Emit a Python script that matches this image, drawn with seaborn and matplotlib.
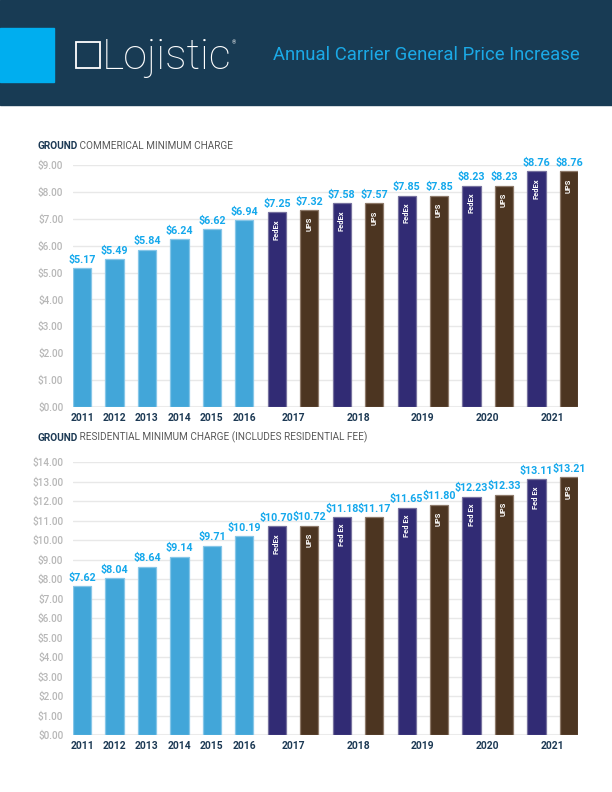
#!/usr/bin/env python3
"""
Lojistic one-pager: annual carrier general price increase, ground minimums.
"""

import matplotlib.pyplot as plt
import numpy as np
import pandas as pd
import seaborn as sns
from matplotlib.patches import Rectangle

# ---- data -----------------------------------------------------------------
hist_years = ["2011", "2012", "2013", "2014", "2015", "2016"]
carrier_years = ["2017", "2018", "2019", "2020", "2021"]

commercial_hist = [5.17, 5.49, 5.84, 6.24, 6.62, 6.94]
commercial_fedex = [7.25, 7.58, 7.85, 8.23, 8.76]
commercial_ups = [7.32, 7.57, 7.85, 8.23, 8.76]
commercial_fedex_tags = ["FedEx", "FedEx", "FedEx", "FedEx", "FedEx"]
commercial_ups_tags = ["UPS", "UPS", "UPS", "UPS", "UPS"]

residential_hist = [7.62, 8.04, 8.64, 9.14, 9.71, 10.19]
residential_fedex = [10.70, 11.18, 11.65, 12.23, 13.11]
residential_ups = [10.72, 11.17, 11.80, 12.33, 13.21]
residential_fedex_tags = ["FedEx", "Fed Ex", "Fed Ex", "Fed Ex", "Fed Ex"]
residential_ups_tags = ["UPS", "", "UPS", "UPS", "UPS"]

# ---- style ----------------------------------------------------------------
NAVY_BG = "#183b54"
CYAN = "#00aeef"
TITLE_BLUE = "#1ba9e6"
VALUE_BLUE = "#14a8ec"
YEAR_NAVY = "#1c3954"
TICK_GREY = "#b7b7b7"
GRID = "#e8e8e8"
palette = {"Ground": "#42a6d9", "FedEx": "#312b74", "UPS": "#4c3521"}
edges = {"Ground": "#86c6e8", "FedEx": "#77729f", "UPS": "#8e7a6a"}
BAR_W = 0.56
FONT = "Roboto"

W, H = 612, 792


def build_frame(hist, fedex, ups, fedex_tags, ups_tags):
    rows = []
    for i, v in enumerate(hist):
        rows.append({"slot": i, "value": v, "carrier": "Ground", "tag": ""})
    for j in range(len(carrier_years)):
        rows.append({"slot": 6 + 2 * j, "value": fedex[j], "carrier": "FedEx",
                     "tag": fedex_tags[j]})
        rows.append({"slot": 7 + 2 * j, "value": ups[j], "carrier": "UPS",
                     "tag": ups_tags[j]})
    return pd.DataFrame(rows).sort_values("slot").reset_index(drop=True)


def draw_panel(ax, df, ymax):
    sns.barplot(
        ax=ax, data=df, x="slot", y="value", hue="carrier",
        hue_order=["Ground", "FedEx", "UPS"], palette=palette,
        dodge=False, width=BAR_W, saturation=1, legend=False,
        order=list(range(16)), linewidth=0.9,
    )
    for container, name in zip(ax.containers, ["Ground", "FedEx", "UPS"]):
        for bar in container:
            bar.set_edgecolor(edges[name])

    ax.set_xlim(-BAR_W / 2, 15 + BAR_W / 2)
    ax.set_ylim(0, ymax)
    ax.set_yticks(np.arange(0, ymax + 0.5, 1))
    ax.set_yticklabels([f"${t:.2f}" for t in np.arange(0, ymax + 0.5, 1)])
    ax.yaxis.grid(True, color=GRID, linewidth=1.0)
    ax.xaxis.grid(False)
    ax.set_axisbelow(True)
    ax.axhline(0, color="#ececec", linewidth=2.2, zorder=0.5)
    for s in ax.spines.values():
        s.set_visible(False)

    ax.tick_params(axis="y", length=0, pad=7, labelcolor=TICK_GREY,
                   labelsize=7.2)
    for lab in ax.get_yticklabels():
        lab.set_fontfamily(FONT)
        lab.set_fontweight("medium")

    xticks = list(range(6)) + [6.5 + 2 * j for j in range(5)]
    ax.set_xticks(xticks)
    ax.set_xticklabels(hist_years + carrier_years)
    ax.tick_params(axis="x", length=0, pad=4, labelcolor=YEAR_NAVY,
                   labelsize=7.4)
    for lab in ax.get_xticklabels():
        lab.set_fontfamily(FONT)
        lab.set_fontweight("bold")
    ax.set_xlabel("")
    ax.set_ylabel("")

    for _, row in df.iterrows():
        ax.annotate(
            f"${row['value']:.2f}", (row["slot"], row["value"]),
            xytext=(0, 2.5), textcoords="offset points", ha="center",
            va="bottom", color=VALUE_BLUE, fontsize=7.7, fontweight="bold",
            family=FONT, annotation_clip=False,
        )
        if row["tag"]:
            ax.annotate(
                row["tag"], (row["slot"], row["value"]),
                xytext=(0, -5), textcoords="offset points", ha="center",
                va="top", rotation=90, color="white", fontsize=5.4,
                fontweight="bold", family=FONT,
            )


def section_title(fig, y_px, strong, rest):
    t = fig.text(37 / W, 1 - y_px / H, strong, ha="left", va="center",
                 fontsize=7.2, fontweight="bold", color=YEAR_NAVY, family=FONT)
    return fig.add_artist(plt.Annotation(
        " " + rest, xy=(1, 0), xycoords=t, va="bottom", ha="left",
        fontsize=7.2, color="#5a5a5a", family=FONT))


def main() -> None:
    sns.set_theme(style="white")
    plt.rcParams["font.family"] = [FONT, "DejaVu Sans"]

    fig = plt.figure(figsize=(W / 100, H / 100), dpi=100)
    fig.patch.set_facecolor("white")

    # header band
    fig.patches.append(Rectangle((0, 1 - 105 / H), 1, 105 / H,
                                 transform=fig.transFigure, color=NAVY_BG,
                                 zorder=0))
    fig.patches.append(Rectangle((0, 1 - 82 / H), 54 / W, 54 / H,
                                 transform=fig.transFigure, color=CYAN,
                                 zorder=1))
    fig.patches.append(Rectangle((76 / W, 1 - 68 / H), 24 / W, 26 / H,
                                 transform=fig.transFigure, fill=False,
                                 edgecolor="white", linewidth=1.3, zorder=2))
    fig.text(102 / W, 1 - 57 / H, "Lojistic", ha="left", va="center",
             fontsize=31, color="white", family="Roboto", fontweight="light")
    fig.text(232 / W, 1 - 43 / H, "®", ha="left", va="center", fontsize=4,
             color="white")
    fig.text(273 / W, 1 - 55 / H, "Annual Carrier General Price Increase",
             ha="left", va="center", fontsize=13.3, color=TITLE_BLUE,
             family=FONT)

    left = 73 / W
    width = (578 - 73) / W
    ax1 = fig.add_axes([left, 1 - 407 / H, width, (407 - 165) / H])
    ax2 = fig.add_axes([left, 1 - 735 / H, width, (735 - 462) / H])

    commercial = build_frame(commercial_hist, commercial_fedex, commercial_ups,
                             commercial_fedex_tags, commercial_ups_tags)
    residential = build_frame(residential_hist, residential_fedex,
                              residential_ups, residential_fedex_tags,
                              residential_ups_tags)
    draw_panel(ax1, commercial, 9)
    draw_panel(ax2, residential, 14)

    section_title(fig, 146, "GROUND", "COMMERICAL MINIMUM CHARGE")
    section_title(fig, 438, "GROUND",
                  "RESIDENTIAL MINIMUM CHARGE (INCLUDES RESIDENTIAL FEE)")

    fig.savefig("out.png", dpi=100)


if __name__ == "__main__":
    main()
